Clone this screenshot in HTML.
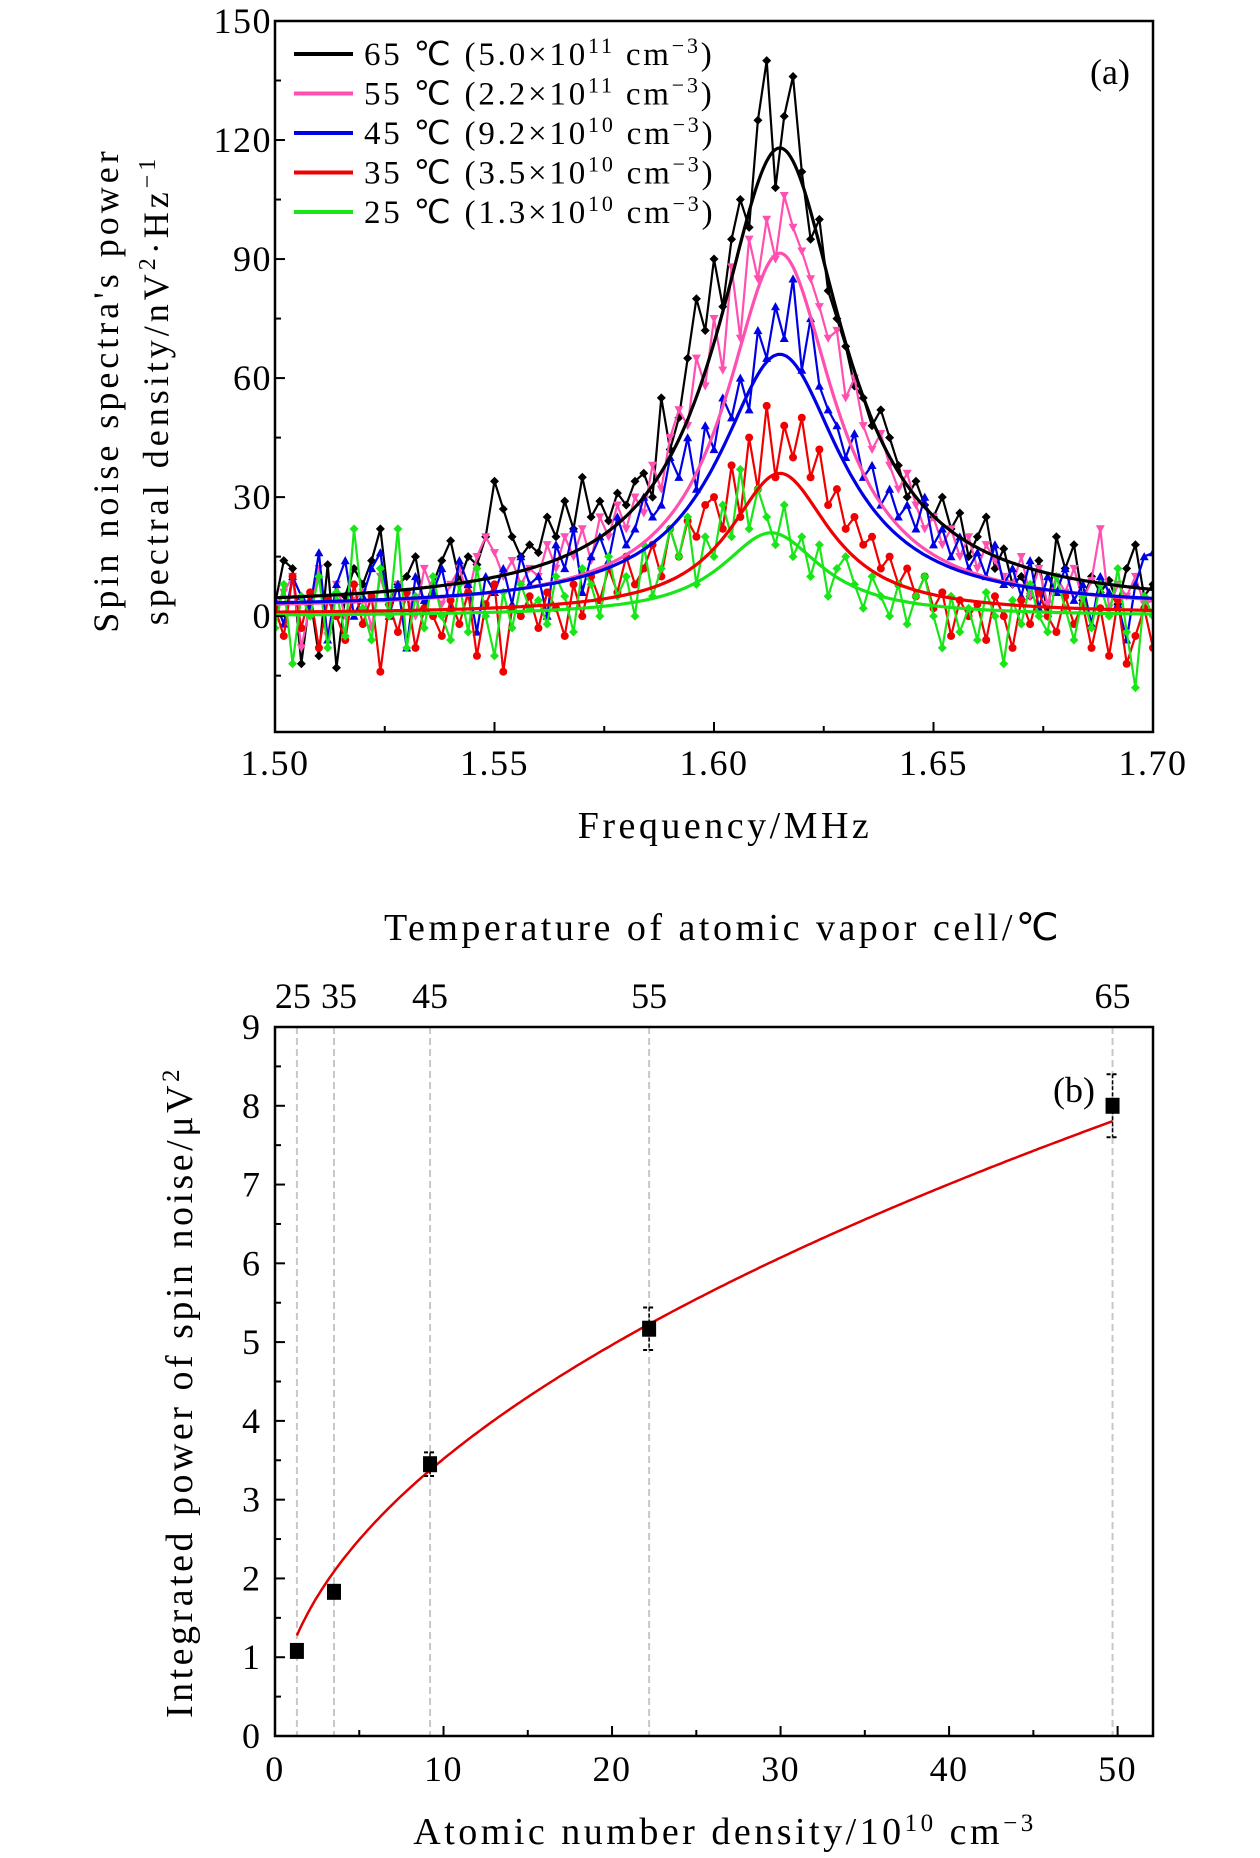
<!DOCTYPE html>
<html><head><meta charset="utf-8"><style>
html,body{margin:0;padding:0;background:#fff;}
svg{display:block;font-family:"Liberation Serif",serif;}
</style></head><body>
<svg id="fig" width="1260" height="1858" viewBox="0 0 1260 1858" xmlns="http://www.w3.org/2000/svg"></svg>
<script>
// ---------- Panel (a) data ----------
const freqStart = 1.5, freqStep = 0.002;
const seriesNames = ["65 ℃", "55 ℃", "45 ℃", "35 ℃", "25 ℃"];
const seriesColors = ["#000000", "#ff4fb0", "#0000e6", "#f00000", "#19e619"];
const blackVals = [3,14,12,-12,5,-10,13,-13,5,12, 8,14,22,3,8,10,15,2,8,14, 19,9,15,13,20,34,27,20,15,18, 16,25,20,29,22,35,25,29,24,31, 28,34,36,30,55,42,50,65,80,72, 90,78,95,105,98,125,140,108,126,136, 112,95,100,82,75,68,58,55,48,52, 45,38,30,34,28,25,30,22,26,15, 20,25,12,17,8,10,5,14,0,20, 12,18,4,10,6,9,3,12,18,5, 8];
const pinkVals = [2,6,10,-8,3,12,-5,8,0,4, 6,-3,10,2,8,5,0,12,6,3, 8,12,5,15,20,16,10,14,8,12, 10,18,12,20,15,22,14,25,20,28, 22,30,26,38,32,45,52,48,65,58, 75,62,88,70,95,85,100,90,106,98, 92,85,78,70,72,55,60,48,42,46, 38,32,36,28,22,25,18,22,15,20, 12,18,14,10,8,15,5,12,3,10, 6,12,4,9,22,2,8,5,10,3, 4];
const blueVals = [4,-2,10,5,2,16,-6,8,14,0, 5,12,16,0,8,-8,10,4,6,12, 2,14,8,-4,10,6,12,3,15,8, 10,0,18,12,22,6,15,20,14,25, 18,22,30,25,28,40,35,45,32,48, 42,55,50,60,52,72,65,78,70,85, 62,75,58,52,48,40,46,35,38,28, 32,25,28,22,30,18,22,15,20,12, 16,10,18,8,12,5,14,2,10,6, 12,4,8,-2,10,6,3,-6,8,15, 16];
const redVals = [2,-5,10,-3,6,-8,4,0,-6,8, -2,5,-14,3,-4,6,-8,2,0,-5, 4,-2,6,-10,3,8,-14,2,0,5, -3,6,2,-5,8,0,10,4,12,6, 15,8,12,18,10,22,15,24,20,28, 30,22,38,25,45,32,53,35,48,40, 50,35,42,28,32,22,25,18,20,12, 15,8,12,5,10,2,6,-5,4,0, 3,-6,5,0,-8,4,-2,6,0,-4, 5,-2,3,-8,2,-10,4,-12,-5,2, -8];
const greenVals = [-3,8,-12,5,0,10,-8,6,-5,22, 2,-6,12,0,22,-8,5,-3,10,0, -6,8,-4,12,0,-10,6,-3,8,2, 4,-2,10,5,-4,12,8,0,15,5, 10,0,18,5,12,22,15,25,8,20, 15,28,20,37,22,32,25,18,28,15, 20,10,18,5,12,15,8,2,10,5, 0,8,-2,5,10,0,-8,5,-4,2, -6,6,0,-12,4,-2,8,0,-4,10, 2,-6,5,-3,8,0,12,-4,-18,5, 0];
// Lorentzian fit parameters: center, amplitude, half-width, baseline
const fitCenters = [1.615, 1.615, 1.615, 1.615, 1.613];
const fitAmps = [116, 90, 64, 35.5, 21];
const fitWidths = [0.0175, 0.015, 0.017, 0.014, 0.014];
const fitBases = [2, 1.5, 2, 0.5, 0];
const legendConc = ["5.0", "2.2", "9.2", "3.5", "1.3"];
const legendExp = ["11", "11", "10", "10", "10"];
const aYTicks = [0, 30, 60, 90, 120, 150];
const aXTicks = [1.50, 1.55, 1.60, 1.65, 1.70];
// ---------- Panel (b) data ----------
const densities = [1.3, 3.5, 9.2, 22.2, 49.7];
const temps = ["25", "35", "45", "55", "65"];
const powers = [1.08, 1.83, 3.45, 5.17, 8.0];
const errs = [0.05, 0.06, 0.15, 0.27, 0.4];
const fitA = 1.12, fitB = 0.497;
const bYTicks = [0,1,2,3,4,5,6,7,8,9];
const bXTicks = [0,10,20,30,40,50];

const NS = "http://www.w3.org/2000/svg";
const svg = document.getElementById("fig");
const TICK = 36, TITLE = 38, TSP = 3.5;
function mk(tag, attrs, parent) {
  const e = document.createElementNS(NS, tag);
  for (const k in attrs) e.setAttribute(k, attrs[k]);
  (parent || svg).appendChild(e);
  return e;
}
function txt(str, x, y, size, anchor, parent, ls) {
  const t = mk("text", {x: x, y: y, "font-size": size, "text-anchor": anchor || "middle", fill: "#000", "letter-spacing": ls || 0}, parent);
  t.textContent = str;
  return t;
}

// ================= PANEL A =================
const A = {l: 275, r: 1153, t: 21, b: 732, xmin: 1.5, xmax: 1.7, ymin: -29.2, ymax: 150};
const ax = v => A.l + (v - A.xmin) / (A.xmax - A.xmin) * (A.r - A.l);
const ay = v => A.b - (v - A.ymin) / (A.ymax - A.ymin) * (A.b - A.t);
const gA = mk("g", {});


const clipA = mk("clipPath", {id: "clipA"}, gA);
mk("rect", {x: A.l, y: A.t, width: A.r - A.l, height: A.b - A.t}, clipA);

const allVals = [blackVals, pinkVals, blueVals, redVals, greenVals];
const seriesKeys = ["65c", "55c", "45c", "35c", "25c"];
const dataG = mk("g", {"clip-path": "url(#clipA)"}, gA);
function marker(i, x, y, col, parent) {
  const s = 4.5;
  let m;
  if (i === 0 || i === 4) m = mk("polygon", {points: `${x},${y-s} ${x+s},${y} ${x},${y+s} ${x-s},${y}`, fill: col}, parent);
  else if (i === 1) m = mk("polygon", {points: `${x-s},${y-s*0.8} ${x+s},${y-s*0.8} ${x},${y+s}`, fill: col}, parent);
  else if (i === 2) m = mk("polygon", {points: `${x-s},${y+s*0.8} ${x+s},${y+s*0.8} ${x},${y-s}`, fill: col}, parent);
  else m = mk("circle", {cx: x, cy: y, r: 4, fill: col}, parent);
  return m;
}
for (let s = 0; s < 5; s++) {
  const g = mk("g", {}, dataG);
  
  
  const vals = allVals[s];
  let d = "";
  vals.forEach((v, i) => { d += (i ? "L" : "M") + ax(freqStart + i * freqStep).toFixed(1) + "," + ay(v).toFixed(1); });
  const p = mk("path", {d: d, fill: "none", stroke: seriesColors[s], "stroke-width": 2.2}, g);
  
  
  vals.forEach((v, i) => {
    const m = marker(s, ax(freqStart + i * freqStep), ay(v), seriesColors[s], g);
    
    
  });
}
for (let s = 0; s < 5; s++) {
  let d = "";
  for (let k = 0; k <= 400; k++) {
    const x = A.xmin + k * (A.xmax - A.xmin) / 400;
    const u = (x - fitCenters[s]) / fitWidths[s];
    const y = fitBases[s] + fitAmps[s] / (1 + u * u);
    d += (k ? "L" : "M") + ax(x).toFixed(1) + "," + ay(y).toFixed(1);
  }
  const p = mk("path", {d: d, fill: "none", stroke: seriesColors[s], "stroke-width": 3.2}, dataG);
  
  
}
const frA = mk("rect", {x: A.l, y: A.t, width: A.r - A.l, height: A.b - A.t, fill: "none", stroke: "#000", "stroke-width": 2.5}, gA);


for (let v = -15; v <= 150; v += 15) {
  const major = v % 30 === 0;
  mk("line", {x1: A.l, x2: A.l + (major ? 10 : 6), y1: ay(v), y2: ay(v), stroke: "#000", "stroke-width": 2}, gA);
}
aYTicks.forEach(v => {
  const t = txt(String(v), 272, ay(v) + 12, TICK, "end", gA, 1.5);
  
  
});
for (let k = 0; k <= 8; k++) {
  const v = 1.5 + k * 0.025;
  const major = k % 2 === 0;
  mk("line", {x1: ax(v), x2: ax(v), y1: A.b, y2: A.b - (major ? 10 : 6), stroke: "#000", "stroke-width": 2}, gA);
}
aXTicks.forEach(v => {
  const t = txt(v.toFixed(2), ax(v), 775, TICK, "middle", gA, 1.5);
  
  
});
const xtA = txt("Frequency/MHz", 725, 838, TITLE, "middle", gA, TSP);


const yt1 = mk("text", {x: 0, y: 0, "font-size": 36, "text-anchor": "middle", transform: "translate(118,390) rotate(-90)", "letter-spacing": 4}, gA);
yt1.textContent = "Spin noise spectra's power";


const yt2 = mk("text", {x: 0, y: 0, "font-size": 36, "text-anchor": "middle", transform: "translate(168,390) rotate(-90)", "letter-spacing": 4}, gA);
yt2.innerHTML = 'spectral density/nV<tspan dy="-13" font-size="24">2</tspan><tspan dy="13">·Hz</tspan><tspan dy="-13" font-size="24">−1</tspan>';


const lblA = txt("(a)", 1110, 84, TICK, "middle", gA);


const leg = mk("g", {}, gA);


for (let s = 0; s < 5; s++) {
  const y = 54 + s * 39.5;
  const e = mk("g", {}, leg);
  
  
  mk("line", {x1: 294, x2: 353, y1: y, y2: y, stroke: seriesColors[s], "stroke-width": 4}, e);
  const t = mk("text", {x: 364, y: y + 11, "font-size": 33, "letter-spacing": 2.8}, e);
  t.innerHTML = seriesNames[s] + ' (' + legendConc[s] + '×10<tspan dy="-12" font-size="22">' + legendExp[s] + '</tspan><tspan dy="12"> cm</tspan><tspan dy="-12" font-size="22">−3</tspan><tspan dy="12">)</tspan>';
}

// ================= PANEL B =================
const B = {l: 275, r: 1153, t: 1027, b: 1736, xmin: 0, xmax: 52.1, ymin: 0, ymax: 9};
const bx = v => B.l + (v - B.xmin) / (B.xmax - B.xmin) * (B.r - B.l);
const by = v => B.b - (v - B.ymin) / (B.ymax - B.ymin) * (B.b - B.t);
const gB = mk("g", {});


densities.forEach((d, i) => {
  const l = mk("line", {x1: bx(d), x2: bx(d), y1: B.t, y2: B.b, stroke: "#c8c8c8", "stroke-width": 2, "stroke-dasharray": "7,4"}, gB);
  
  
  const off = i === 0 ? -4 : (i === 1 ? 5 : 0);
  const t = txt(temps[i], bx(d) + off, 1008, TICK, "middle", gB, 0);
  
  
});
{
  let d = "";
  const x0 = densities[0], x1 = densities[densities.length - 1];
  for (let k = 0; k <= 300; k++) {
    const x = x0 + k * (x1 - x0) / 300;
    d += (k ? "L" : "M") + bx(x).toFixed(1) + "," + by(fitA * Math.pow(x, fitB)).toFixed(1);
  }
  const p = mk("path", {d: d, fill: "none", stroke: "#e00000", "stroke-width": 2.5}, gB);
  
  
}
densities.forEach((d, i) => {
  const g = mk("g", {}, gB);
  
  
  const x = bx(d), y = by(powers[i]);
  const y1 = by(powers[i] + errs[i]), y2 = by(powers[i] - errs[i]);
  mk("line", {x1: x, x2: x, y1: y1, y2: y2, stroke: "#000", "stroke-width": 1.5, "stroke-dasharray": "4,2"}, g);
  mk("line", {x1: x - 6, x2: x + 6, y1: y1, y2: y1, stroke: "#000", "stroke-width": 2, "stroke-dasharray": "4,2"}, g);
  mk("line", {x1: x - 6, x2: x + 6, y1: y2, y2: y2, stroke: "#000", "stroke-width": 2, "stroke-dasharray": "4,2"}, g);
  mk("rect", {x: x - 7, y: y - 8, width: 14, height: 16, fill: "#000"}, g);
});
const frB = mk("rect", {x: B.l, y: B.t, width: B.r - B.l, height: B.b - B.t, fill: "none", stroke: "#000", "stroke-width": 2.5}, gB);


for (let v = 0; v <= 9; v += 0.5) {
  const major = Number.isInteger(v);
  mk("line", {x1: B.l, x2: B.l + (major ? 10 : 6), y1: by(v), y2: by(v), stroke: "#000", "stroke-width": 2}, gB);
}
bYTicks.forEach(v => {
  const t = txt(String(v), 260, by(v) + 12, TICK, "end", gB);
  
  
});
for (let v = 0; v <= 50; v += 5) {
  const major = v % 10 === 0;
  mk("line", {x1: bx(v), x2: bx(v), y1: B.b, y2: B.b - (major ? 10 : 6), stroke: "#000", "stroke-width": 2}, gB);
}
bXTicks.forEach(v => {
  const t = txt(String(v), bx(v), 1781, TICK, "middle", gB, 1.5);
  
  
});
const xtB = mk("text", {x: 725, y: 1844, "font-size": TITLE, "text-anchor": "middle", "letter-spacing": TSP}, gB);
xtB.innerHTML = 'Atomic number density/10<tspan dy="-13" font-size="25">10</tspan><tspan dy="13"> cm</tspan><tspan dy="-13" font-size="25">−3</tspan>';


const ttB = txt("Temperature of atomic vapor cell/℃", 723, 940, TITLE, "middle", gB, TSP);


const ytB = mk("text", {x: 0, y: 0, "font-size": TITLE, "text-anchor": "middle", transform: "translate(192,1392) rotate(-90)", "letter-spacing": TSP}, gB);
ytB.innerHTML = 'Integrated power of spin noise/μV<tspan dy="-13" font-size="25">2</tspan>';


const lblB = txt("(b)", 1074, 1102, TICK, "middle", gB);


</script>
</body></html>
